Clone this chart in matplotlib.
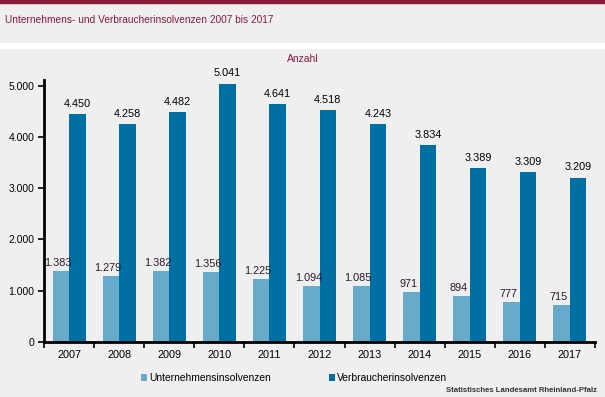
import numpy as np
import matplotlib.pyplot as plt
from matplotlib.patches import Rectangle

# Daten
jahre = ['2007', '2008', '2009', '2010', '2011', '2012', '2013', '2014', '2015', '2016', '2017']
unternehmen = [1383, 1279, 1382, 1356, 1225, 1094, 1085, 971, 894, 777, 715]
verbraucher = [4450, 4258, 4482, 5041, 4641, 4518, 4243, 3834, 3389, 3309, 3209]

hell = '#67aaca'
dunkel = '#0070a3'
grau = '#eeefee'
rot = '#8b1a3a'
schrift = 'Liberation Sans'


def fmt(v):
    return f'{v:,}'.replace(',', '.')


fig = plt.figure(figsize=(6.05, 3.97), dpi=100)
fig.patch.set_facecolor(grau)

# Kopfbereich: roter Strich oben, weisse Trennlinie
fig.add_artist(Rectangle((0, 1 - 3 / 397), 1, 3 / 397, transform=fig.transFigure,
                         color=rot, zorder=0))
fig.add_artist(Rectangle((0, 1 - 48 / 397), 1, 5 / 397, transform=fig.transFigure,
                         color='white', zorder=0))
fig.text(5 / 605, 1 - 20 / 397, 'Unternehmens- und Verbraucherinsolvenzen 2007 bis 2017',
         color=rot, fontsize=7.3, va='center', ha='left', family=schrift)
fig.text(303 / 605, 1 - 59 / 397, 'Anzahl', color=rot, fontsize=7.5,
         va='center', ha='center', family=schrift)

ax = fig.add_axes([44 / 605, 55 / 397, 551 / 605, 262 / 397])
ax.set_facecolor(grau)

x = np.arange(len(jahre))
b = 0.33
ax.bar(x - b / 2, unternehmen, b, color=hell, label='Unternehmensinsolvenzen')
ax.bar(x + b / 2, verbraucher, b, color=dunkel, label='Verbraucherinsolvenzen')

for i in range(len(jahre)):
    ax.text(x[i] - b / 2 - 0.06, unternehmen[i] + 60, fmt(unternehmen[i]), ha='center',
            va='bottom', fontsize=7.8, color='#2a1a2a', family=schrift)
    ax.text(x[i] + b / 2, verbraucher[i] + 100, fmt(verbraucher[i]), ha='center',
            va='bottom', fontsize=7.8, color='black', family=schrift)

ax.set_xlim(-0.5, len(jahre) - 0.5)
ax.set_ylim(0, 5111)
ax.set_yticks([0, 1000, 2000, 3000, 4000, 5000])
ax.set_yticklabels([fmt(v) for v in [0, 1000, 2000, 3000, 4000, 5000]],
                   fontsize=7.5, family=schrift)
ax.set_xticks(x)
ax.set_xticklabels(jahre, fontsize=7.8, family=schrift)
ax.tick_params(axis='x', length=0, pad=6)
ax.set_xticks(np.arange(-0.5, len(jahre)), minor=True)
ax.tick_params(axis='x', which='minor', length=4, width=1.2, direction='out')
ax.tick_params(axis='y', length=4, width=1.2, direction='out', pad=3)

for s in ['top', 'right']:
    ax.spines[s].set_visible(False)
ax.spines['left'].set_linewidth(2)
ax.spines['bottom'].set_linewidth(2)

leg = fig.legend(loc='center', bbox_to_anchor=(294 / 605, 1 - 378 / 397), ncol=2,
                 frameon=False, handlelength=0.6, handleheight=0.6, handletextpad=0.2,
                 columnspacing=5.6, prop={'family': schrift, 'size': 7.4})

fig.text(597 / 605, 1 - 390 / 397, 'Statistisches Landesamt Rheinland-Pfalz', ha='right',
         va='center', fontsize=5.6, fontweight='bold', color='#333333', family=schrift)

fig.savefig('out.png', dpi=100, facecolor=fig.get_facecolor())
